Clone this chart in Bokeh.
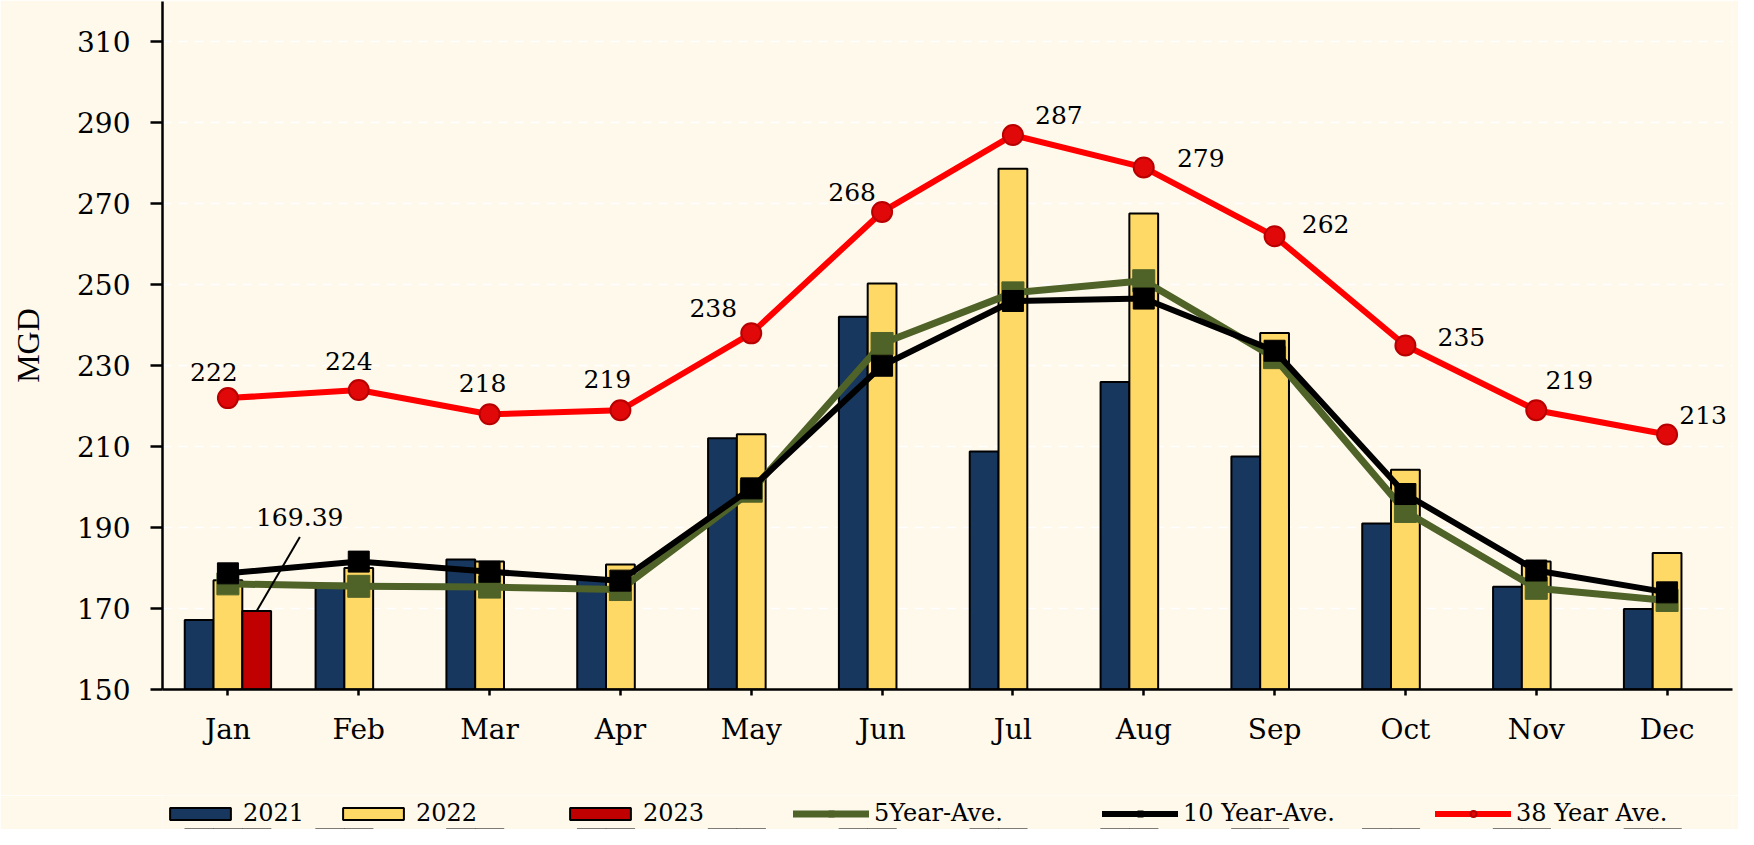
from bokeh.plotting import figure
from bokeh.layouts import column
from bokeh.models import (ColumnDataSource, FactorRange, FixedTicker, Legend,
                          LegendItem, Range1d)
from bokeh.transform import dodge
from bokeh.core.properties import value
from bokeh.embed import file_html
from bokeh.resources import INLINE

# ---------------- data ----------------
months = ["Jan", "Feb", "Mar", "Apr", "May", "Jun",
          "Jul", "Aug", "Sep", "Oct", "Nov", "Dec"]
y2021 = [167.2, 176.1, 182.1, 177.3, 212.1, 242.1, 208.8, 226.0, 207.6, 191.0, 175.4, 169.9]
y2022 = [177.0, 180.0, 181.6, 180.9, 213.1, 250.3, 278.7, 267.6, 238.1, 204.3, 181.6, 183.7]
months2023 = ["Jan"]
y2023 = [169.39]
ave5 = [176.1, 175.5, 175.3, 174.7, 199.0, 235.5, 248.0, 251.0, 232.0, 194.0, 175.0, 172.0]
ave10 = [178.7, 181.6, 179.1, 176.9, 199.7, 230.0, 246.0, 246.6, 233.7, 198.3, 179.4, 174.0]
ave38 = [222, 224, 218, 219, 238, 268, 287, 279, 262, 235, 219, 213]
y_ticks = [150, 170, 190, 210, 230, 250, 270, 290, 310]
series_names = ["2021", "2022", "2023", "5Year-Ave.", "10 Year-Ave.", "38 Year Ave."]

# ---------------- layout / style ----------------
BG = "#FFF9EC"
SERIF = "DejaVu Serif"
NAVY, GOLD, RED_BAR = "#17375E", "#FFD966", "#C00000"
OLIVE, RED = "#4F6228", "#FF0000"
BAR_W = 0.22
# label offsets (screen px) for the 38-year labels
lbl_dx = [-14, -10, -7, -13, -38, -30, 46, 57, 51, 56, 33, 36]
lbl_dy = [-26, -29, -31, -31, -25, -20, -20, -9, -12, -9, -30, -20]
# legend item positions, relative to the (aligned) plot frame's left edge
legend_x = [0, 173, 400, 631, 940, 1273]

p = figure(x_range=FactorRange(factors=months, range_padding=0),
           y_range=Range1d(150, 320),
           width=1738, height=795,
           output_backend="svg", toolbar_location=None,
           min_border_left=162, min_border_right=6, min_border_top=1,
           min_border_bottom=106,
           background_fill_color=BG, border_fill_color=BG)
p.outline_line_color = None

src = ColumnDataSource(dict(m=months, y21=y2021, y22=y2022, a5=ave5, a10=ave10,
                            a38=ave38, lbl=[str(v) for v in ave38],
                            dx=lbl_dx, dy=lbl_dy))
src23 = ColumnDataSource(dict(m=months2023, v=y2023,
                              lead=[v + 18.3 for v in y2023],
                              lbl=["%.2f" % v for v in y2023]))

base = y_ticks[0]
bar_style = dict(line_color="black", line_width=2)
line5 = dict(line_color=OLIVE, line_width=7, line_join="round", line_cap="round")
mark5 = dict(marker="square", size=22, fill_color=OLIVE, line_color=OLIVE)
line10 = dict(line_color="black", line_width=6, line_join="round", line_cap="round")
mark10 = dict(marker="square", size=21, fill_color="black", line_color="black")
line38 = dict(line_color=RED, line_width=6, line_join="round", line_cap="round")
mark38 = dict(marker="circle", size=20, fill_color="#E00808", line_color="#B80000", line_width=2)


def draw_series(fig):
    """Draw bars and lines on a figure; returns renderers grouped per series."""
    xr = fig.x_range
    r21 = fig.vbar(x=dodge('m', -BAR_W, range=xr), top='y21', bottom=base, width=BAR_W,
                   source=src, fill_color=NAVY, **bar_style)
    r22 = fig.vbar(x=dodge('m', 0.0, range=xr), top='y22', bottom=base, width=BAR_W,
                   source=src, fill_color=GOLD, **bar_style)
    r23 = fig.vbar(x=dodge('m', BAR_W, range=xr), top='v', bottom=base, width=BAR_W,
                   source=src23, fill_color=RED_BAR, **bar_style)
    g5 = [fig.line('m', 'a5', source=src, **line5), fig.scatter('m', 'a5', source=src, **mark5)]
    g10 = [fig.line('m', 'a10', source=src, **line10), fig.scatter('m', 'a10', source=src, **mark10)]
    g38 = [fig.line('m', 'a38', source=src, **line38), fig.scatter('m', 'a38', source=src, **mark38)]
    return [[r21], [r22], [r23], g5, g10, g38]


draw_series(p)

p.text(x='m', y='a38', text='lbl', source=src, x_offset='dx', y_offset='dy',
       text_font=value(SERIF), text_font_size="25px", text_color="black",
       text_align="center", text_baseline="middle")

# 2023 annotation with leader line
p.segment(x0=dodge('m', BAR_W, range=p.x_range), y0='v',
          x1=dodge('m', BAR_W + 0.33, range=p.x_range), y1='lead',
          source=src23, line_color="black", line_width=2)
p.text(x=dodge('m', BAR_W, range=p.x_range), y='v', text='lbl', source=src23,
       x_offset=43, y_offset=-94,
       text_font=value(SERIF), text_font_size="25px", text_color="black",
       text_align="center", text_baseline="middle")

# axes
p.xgrid.visible = False
p.ygrid.ticker = FixedTicker(ticks=y_ticks)
p.ygrid.grid_line_color = "white"
p.ygrid.grid_line_dash = "9 7"
p.ygrid.grid_line_width = 1.5

p.yaxis.ticker = FixedTicker(ticks=y_ticks)
for ax in (p.xaxis[0], p.yaxis[0]):
    ax.axis_line_color = "black"
    ax.axis_line_width = 2.5
    ax.major_tick_line_color = "black"
    ax.major_tick_line_width = 2.5
    ax.major_tick_in = 0
    ax.minor_tick_line_color = None
    ax.major_label_text_font = SERIF
    ax.major_label_text_font_size = "28px"
    ax.major_label_text_color = "black"
p.xaxis.major_tick_out = 6
p.xaxis.major_label_standoff = 17
p.yaxis.major_tick_out = 12
p.yaxis.major_label_standoff = 20
p.yaxis.axis_label = "MGD"
p.yaxis.axis_label_text_font = "Liberation Serif"
p.yaxis.axis_label_text_font_size = "32px"
p.yaxis.axis_label_text_font_style = "normal"
p.yaxis.axis_label_text_color = "black"
p.yaxis.axis_label_standoff = 28

# ---------------- legend strip below the chart ----------------
# same series drawn on a strip whose y-range lies above all values (only legend shows)
q = figure(width=1738, height=34,
           x_range=FactorRange(factors=months, range_padding=0),
           y_range=Range1d(y_ticks[-1] + 10, y_ticks[-1] + 20),
           output_backend="svg", toolbar_location=None,
           x_axis_type=None, y_axis_type=None,
           min_border_left=162, min_border_right=6, min_border_top=0,
           min_border_bottom=0,
           background_fill_color=BG, border_fill_color=BG)
q.outline_line_color = None
q.grid.visible = False
groups = draw_series(q)

for name, rends, lx in zip(series_names, groups, legend_x):
    leg = Legend(items=[LegendItem(label=name, renderers=rends)],
                 location=(lx, 2), orientation="horizontal",
                 glyph_width=76, glyph_height=15, label_standoff=5,
                 padding=0, margin=0, spacing=0, border_line_color=None,
                 background_fill_alpha=0, label_text_font=SERIF,
                 label_text_font_size="24px", label_height=15,
                 label_text_color="black", label_text_baseline="middle")
    q.add_layout(leg, "center")

layout = column(p, q, spacing=0)
open("out.html", "w").write(file_html(layout, INLINE))
